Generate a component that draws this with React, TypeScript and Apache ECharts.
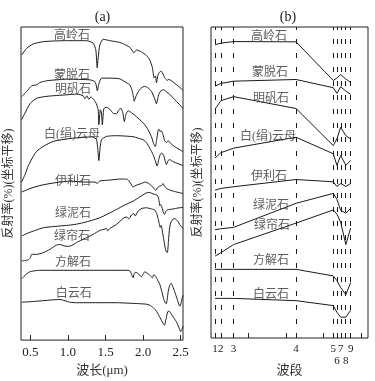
import React, { useEffect, useRef } from 'react';
import * as echarts from 'echarts';

// ---------- Panel (a): full spectra, wavelength (μm) vs offset reflectance ----------
const kaoliniteA: number[][] = [
  [0.385, 286], [0.452, 292.7], [0.539, 297], [0.672, 299.3], [0.827, 300], [0.983, 300.3],
  [1.248, 300.3], [1.336, 297.7], [1.371, 291], [1.389, 273], [1.402, 283], [1.424, 296],
  [1.468, 301.7], [1.557, 300.3], [1.69, 298.5], [1.756, 296.5], [1.823, 293.5], [1.85, 291],
  [1.876, 288], [1.912, 291], [1.978, 289], [2.044, 285.5], [2.088, 281], [2.124, 273],
  [2.145, 263], [2.164, 265], [2.177, 258], [2.198, 266], [2.221, 269], [2.243, 269.5],
  [2.287, 263], [2.323, 260.5], [2.34, 261.5], [2.376, 260], [2.42, 257.5], [2.463, 255],
  [2.509, 252], [2.53, 250.5],
];
const montmorilloniteA: number[][] = [
  [0.385, 244.3], [0.452, 249.3], [0.518, 255], [0.584, 256], [0.628, 258.3], [0.672, 259.3],
  [0.738, 260.3], [0.85, 261], [0.983, 261.7], [1.292, 261], [1.358, 259.3], [1.378, 255],
  [1.391, 250], [1.411, 257], [1.447, 262.7], [1.557, 262.7], [1.69, 262], [1.779, 258],
  [1.823, 256], [1.85, 251], [1.866, 246], [1.882, 239.5], [1.902, 244], [1.933, 249],
  [1.978, 253], [2.022, 254.5], [2.065, 253], [2.11, 249.5], [2.154, 242], [2.177, 237],
  [2.194, 242], [2.211, 247], [2.243, 250.5], [2.274, 251], [2.31, 249], [2.353, 246.5],
  [2.397, 243], [2.442, 239.5], [2.486, 236], [2.53, 232.5],
];
const aluniteA: number[][] = [
  [0.385, 221], [0.429, 227.7], [0.495, 237], [0.584, 242.5], [0.721, 244.5], [0.983, 246],
  [1.119, 246.7], [1.203, 245], [1.225, 242], [1.252, 245], [1.278, 241.5], [1.305, 244],
  [1.345, 241], [1.378, 237], [1.402, 231], [1.411, 216], [1.431, 231], [1.444, 229],
  [1.458, 216], [1.477, 232], [1.513, 233.5], [1.557, 231.5], [1.601, 227.5], [1.646, 227],
  [1.677, 231], [1.703, 232.5], [1.73, 228], [1.75, 219], [1.77, 226], [1.8, 230],
  [1.845, 228], [1.889, 225.5], [1.933, 222.5], [1.978, 219.5], [2.022, 216], [2.065, 211],
  [2.11, 204], [2.14, 197], [2.161, 194], [2.18, 201], [2.198, 210], [2.211, 211.5],
  [2.227, 209], [2.243, 210], [2.264, 206], [2.287, 200], [2.31, 198], [2.331, 200],
  [2.376, 196.5], [2.42, 194], [2.463, 192], [2.509, 190], [2.53, 189],
];
const muscoviteA: number[][] = [
  [0.385, 158.5], [0.429, 166], [0.473, 175], [0.539, 184.3], [0.584, 189.3], [0.672, 194.3],
  [0.805, 199.3], [0.983, 201.7], [1.203, 203.5], [1.336, 203.7], [1.38, 201], [1.398, 191],
  [1.411, 180], [1.428, 193], [1.447, 201], [1.513, 204.3], [1.646, 205], [1.866, 204],
  [1.933, 202.5], [1.999, 201], [2.044, 198], [2.088, 192.5], [2.132, 186], [2.161, 180],
  [2.187, 174.5], [2.207, 181], [2.227, 186], [2.247, 187.7], [2.274, 185], [2.294, 179],
  [2.31, 176], [2.331, 180], [2.353, 181], [2.397, 179], [2.463, 177], [2.53, 175],
];
const illiteA: number[][] = [
  [0.385, 148.5], [0.495, 152], [0.628, 155], [0.761, 157], [0.894, 158.5], [1.026, 159.5],
  [1.225, 158.5], [1.36, 158.5], [1.39, 157], [1.42, 159.5], [1.557, 160.5], [1.69, 161.5],
  [1.756, 161.5], [1.796, 161], [1.823, 158.5], [1.85, 155], [1.866, 153.5], [1.889, 154.5],
  [1.933, 156], [1.978, 157], [2.022, 158.5], [2.065, 157.5], [2.11, 155], [2.14, 152.5],
  [2.168, 150], [2.194, 153], [2.221, 154.5], [2.247, 155], [2.264, 157], [2.287, 154],
  [2.314, 152], [2.353, 150.5], [2.42, 149], [2.53, 147],
];
const chloriteA: number[][] = [
  [0.385, 104.3], [0.456, 107], [0.539, 109.3], [0.672, 112.7], [0.827, 114], [0.983, 115],
  [1.093, 116], [1.203, 117.7], [1.314, 120], [1.424, 122.7], [1.53, 126.5], [1.646, 131],
  [1.756, 135.5], [1.866, 139.3], [1.955, 143.5], [2.044, 147.7], [2.088, 148], [2.132, 146.5],
  [2.168, 146], [2.198, 144.3], [2.211, 140], [2.221, 135], [2.234, 136], [2.251, 133],
  [2.27, 128], [2.284, 126], [2.3, 129], [2.32, 130.5], [2.353, 131], [2.397, 131.5],
  [2.463, 132.5], [2.53, 133],
];
const epidoteA: number[][] = [
  [0.385, 79.3], [0.473, 80.5], [0.502, 83], [0.518, 86], [0.584, 86], [0.672, 87.7],
  [0.761, 91], [0.84, 95], [0.894, 96], [0.947, 94.5], [1.004, 94], [1.053, 95],
  [1.115, 97.7], [1.181, 100.5], [1.248, 102.7], [1.336, 106], [1.424, 110], [1.477, 111],
  [1.513, 112], [1.53, 109.5], [1.557, 112], [1.646, 116], [1.734, 122], [1.783, 123.5],
  [1.81, 121.5], [1.845, 125.5], [1.876, 127], [1.895, 124.5], [1.933, 129.5], [1.982, 132],
  [2.044, 132.7], [2.114, 131.5], [2.154, 130.5], [2.18, 127], [2.198, 122], [2.214, 117],
  [2.227, 113], [2.24, 115], [2.254, 110], [2.274, 101], [2.294, 92], [2.31, 88.5],
  [2.323, 88], [2.336, 99], [2.353, 113], [2.376, 119.5], [2.42, 122], [2.463, 119],
  [2.486, 116], [2.53, 112],
];
const calciteA: number[][] = [
  [0.385, 61.5], [0.416, 64], [0.452, 66.5], [0.495, 68.5], [0.539, 69.3], [0.628, 70],
  [1.026, 70], [1.424, 70], [1.8, 70], [1.83, 69], [1.845, 66], [1.866, 62.5],
  [1.882, 67], [1.902, 68], [1.929, 67], [1.978, 63.5], [2.002, 66.5], [2.022, 68.5],
  [2.048, 67.5], [2.075, 66], [2.101, 64], [2.124, 62.5], [2.14, 65.5], [2.161, 64.5],
  [2.187, 61], [2.221, 56], [2.247, 49], [2.267, 43], [2.287, 38.5], [2.307, 36.5],
  [2.32, 41], [2.334, 49], [2.353, 55], [2.373, 57], [2.393, 54], [2.42, 48.5],
  [2.453, 41], [2.479, 35], [2.492, 34], [2.509, 39], [2.53, 45],
];
const dolomiteA: number[][] = [
  [0.385, 38], [0.539, 38.7], [0.695, 39.7], [0.827, 40.5], [0.894, 40.7], [0.96, 39.5],
  [1.026, 38], [1.115, 37.5], [1.292, 37.5], [1.646, 37.5], [1.823, 37], [1.955, 36.5],
  [2.044, 36], [2.088, 35], [2.132, 32.7], [2.177, 29], [2.207, 25], [2.243, 20],
  [2.264, 17], [2.284, 15], [2.304, 21], [2.327, 28.5], [2.346, 29], [2.376, 26],
  [2.406, 22.5], [2.442, 18.5], [2.473, 13], [2.499, 8.5], [2.517, 11], [2.53, 14],
];

// ---------- Panel (b): resampled to 9 bands ----------
const BAND_CENTERS = [0.554, 0.63, 0.8, 1.632, 2.128, 2.176, 2.226, 2.295, 2.359];
const BAND_LABELS = ['1', '2', '3', '4', '5', '6', '7', '8', '9'];
// band-label groups (indices into BAND_CENTERS); each group is written by its own axis
const BAND_ROW1_MAIN = [0, 2, 3, 4, 6, 8];
const BAND_ROW1_EXTRA = [1];
const BAND_ROW2 = [5, 7];
const kaoliniteB = [296, 297.7, 299.3, 299, 260, 262.5, 266, 261.5, 258];
const montmorilloniteB = [254.3, 257, 259.3, 261, 252.7, 247, 253.7, 249.3, 246];
const aluniteB = [231, 239.5, 243.7, 231.7, 194.3, 201, 212.7, 204.3, 201];
const muscoviteB = [181.7, 187, 191.7, 202.7, 186, 174.3, 184.3, 174.3, 179.3];
const illiteB = [149.3, 151, 152.7, 160, 157.7, 153, 156, 153, 156];
const chloriteB = [109.3, 110.3, 111.7, 136, 146, 140, 129, 126, 131];
const epidoteB = [82.7, 86, 94.3, 116, 129.3, 125, 117, 94.3, 111];
const calciteB = [69.3, 69.3, 69.3, 69.3, 62.7, 58, 51, 43.7, 56];
const dolomiteB = [40, 40, 40, 37.7, 32.7, 26, 21, 21, 28];

// ---------- text ----------
const MINERALS = ['高岭石', '蒙脱石', '明矾石', '白(绢)云母', '伊利石', '绿泥石', '绿帘石', '方解石', '白云石'];
const WAVE_TICKS = [0.5, 1.0, 1.5, 2.0, 2.5];
const BAND_AXIS_TICKS = [1.0, 1.5, 2.0, 2.5];
const labelAnchorA: number[][] = [
  [1.053, 305.5], [1.053, 266], [1.066, 252], [1.053, 207], [1.066, 160],
  [1.066, 127], [1.053, 104.3], [1.066, 78.5], [1.079, 47],
];
const labelAnchorB: number[][] = [
  [1.273, 305], [1.286, 269], [1.3, 242], [1.26, 204], [1.273, 164],
  [1.3, 134], [1.313, 114.3], [1.3, 78.5], [1.3, 44],
];

export default function App() {
  const ref = useRef<HTMLDivElement>(null);
  useEffect(() => {
    if (!ref.current) return;
    const chart = echarts.init(ref.current, null, { renderer: 'svg' });
    const SERIF = "'Liberation Serif', 'Noto Sans CJK SC', serif";
    const INK = '#1a1a1a';
    const curvesA = [kaoliniteA, montmorilloniteA, aluniteA, muscoviteA, illiteA, chloriteA, epidoteA, calciteA, dolomiteA];
    const curvesB = [kaoliniteB, montmorilloniteB, aluniteB, muscoviteB, illiteB, chloriteB, epidoteB, calciteB, dolomiteB];

    const bandName = (v: number) => {
      const i = BAND_CENTERS.findIndex((b) => Math.abs(b - v) < 1e-6);
      return i < 0 ? '' : BAND_LABELS[i];
    };
    const bandLabelStyle = {
      fontSize: 11, lineHeight: 9, color: '#222', fontFamily: SERIF, margin: 5,
      showMinLabel: true, showMaxLabel: true, hideOverlap: false, formatter: bandName,
    };
    const bandLabelAxis = (indices: number[], offset: number) => ({
      type: 'value', gridIndex: 1, min: 0.5, max: 2.59, position: 'bottom', offset,
      axisLine: { show: false }, splitLine: { show: false }, axisTick: { show: false },
      axisLabel: { ...bandLabelStyle, customValues: indices.map((i) => BAND_CENTERS[i]) },
    });

    const series: any[] = [];
    curvesA.forEach((d) => {
      series.push({
        type: 'line', xAxisIndex: 0, yAxisIndex: 0, data: d, symbol: 'none', showSymbol: false,
        smooth: 0.2, silent: true, lineStyle: { color: INK, width: 1 }, z: 3,
      });
    });
    curvesB.forEach((vals, i) => {
      const s: any = {
        type: 'line', xAxisIndex: 1, yAxisIndex: 1,
        data: vals.map((v, j) => [BAND_CENTERS[j], v]),
        symbol: 'none', showSymbol: false, silent: true,
        lineStyle: { color: INK, width: 1 }, z: 3,
      };
      if (i === 0) {
        s.markLine = {
          silent: true, symbol: ['none', 'none'], label: { show: false },
          lineStyle: { type: [5, 9], color: INK, width: 1 },
          emphasis: { disabled: true },
          data: BAND_CENTERS.map((x) => ({ xAxis: x })),
        };
      }
      series.push(s);
    });
    const labelSeries = (idx: number, anchors: number[][]) => ({
      type: 'scatter', xAxisIndex: idx, yAxisIndex: idx, symbolSize: 0, silent: true, z: 5,
      data: anchors.map((p, i) => [p[0], p[1], MINERALS[i]]),
      itemStyle: { color: 'rgba(0,0,0,0)' },
      label: {
        show: true, position: 'inside', formatter: (p: any) => p.data[2],
        fontSize: 12, color: '#333', fontFamily: SERIF,
      },
    });
    series.push(labelSeries(0, labelAnchorA));
    series.push(labelSeries(1, labelAnchorB));

    const yAxisCommon = (gap: number) => ({
      type: 'value', min: 0, max: 314,
      axisLine: { show: false }, axisTick: { show: false }, axisLabel: { show: false }, splitLine: { show: false },
      name: '反射率(%)(坐标平移)', nameLocation: 'middle', nameRotate: 90, nameGap: gap,
      nameTextStyle: { fontSize: 12, color: '#333', fontFamily: SERIF },
    });

    chart.setOption({
      animation: false,
      grid: [
        { left: 21, top: 27, width: 162, height: 314, show: true, borderColor: '#222', borderWidth: 1, backgroundColor: 'transparent', containLabel: false },
        { left: 211, top: 27, width: 157, height: 314, show: true, borderColor: '#222', borderWidth: 1, backgroundColor: 'transparent', containLabel: false },
      ],
      xAxis: [
        {
          type: 'value', gridIndex: 0, min: 0.376, max: 2.53,
          axisLine: { show: false }, splitLine: { show: false },
          axisTick: { show: true, inside: true, length: 5, customValues: WAVE_TICKS, lineStyle: { color: '#222' } },
          axisLabel: { customValues: WAVE_TICKS, formatter: (v: number) => v.toFixed(1), fontSize: 13, color: '#222', fontFamily: SERIF, margin: 5, showMinLabel: true, showMaxLabel: true },
          name: '波长(μm)', nameLocation: 'middle', nameGap: 22,
          nameTextStyle: { fontSize: 13, color: '#333', fontFamily: SERIF },
        },
        {
          type: 'value', gridIndex: 1, min: 0.5, max: 2.59, position: 'bottom',
          axisLine: { show: false }, splitLine: { show: false },
          axisTick: { show: true, inside: true, length: 5, customValues: BAND_AXIS_TICKS, lineStyle: { color: '#222' } },
          axisLabel: { ...bandLabelStyle, customValues: BAND_ROW1_MAIN.map((i) => BAND_CENTERS[i]) },
          name: '波段', nameLocation: 'middle', nameGap: 25,
          nameTextStyle: { fontSize: 13, color: '#333', fontFamily: SERIF },
        },
        bandLabelAxis(BAND_ROW1_EXTRA, 0),
        bandLabelAxis(BAND_ROW2, 12.5),
      ],
      yAxis: [
        { ...yAxisCommon(7.5), gridIndex: 0 },
        { ...yAxisCommon(8), gridIndex: 1 },
      ],
      graphic: [
        { type: 'text', x: 102.5, y: 16, style: { text: '(a)', fill: '#222', fontSize: 14, fontFamily: SERIF, align: 'center', verticalAlign: 'middle' } },
        { type: 'text', x: 288, y: 16, style: { text: '(b)', fill: '#222', fontSize: 14, fontFamily: SERIF, align: 'center', verticalAlign: 'middle' } },
      ],
      series,
    });
    return () => chart.dispose();
  }, []);
  return <div ref={ref} style={{ position: 'fixed', left: 0, top: 0, width: 375, height: 381 }} />;
}
